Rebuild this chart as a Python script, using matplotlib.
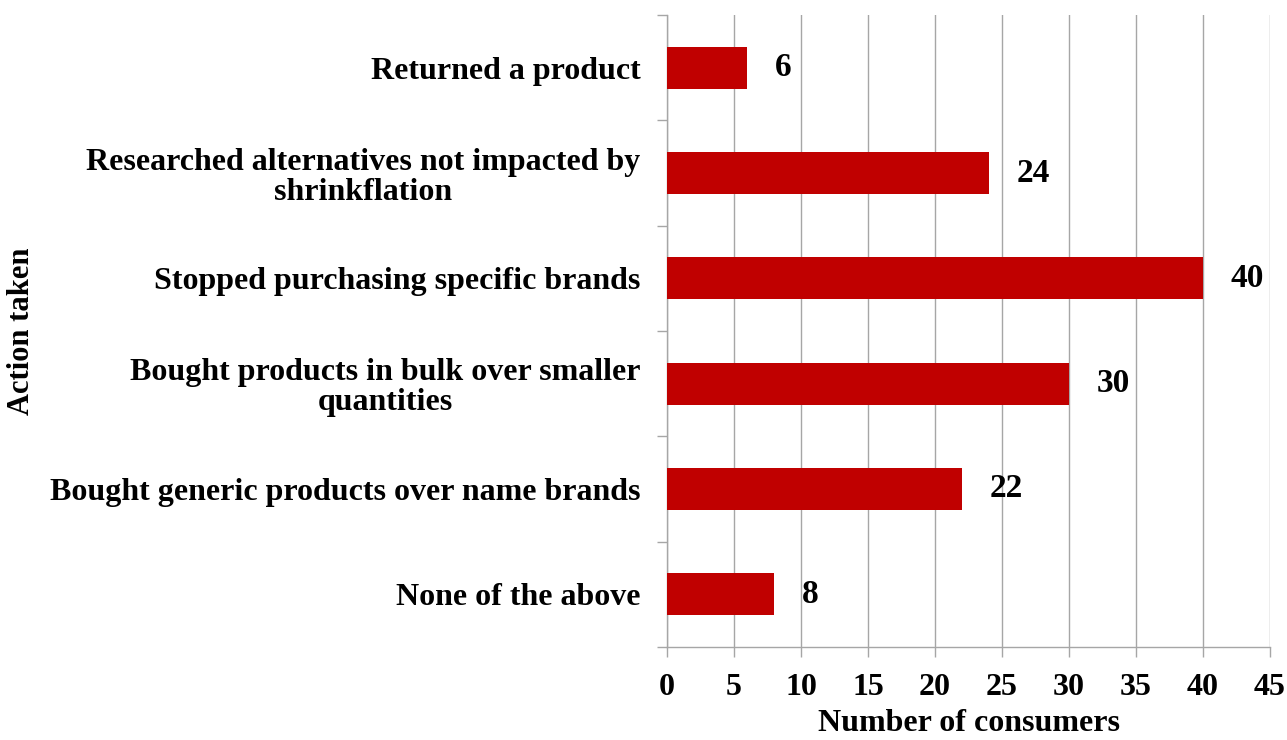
import matplotlib
matplotlib.use("Agg")
import matplotlib.pyplot as plt
import numpy as np

# 消费者针对缩水式通胀采取的行动
actions = [
    "Returned a product",
    "Researched alternatives not impacted by\nshrinkflation",
    "Stopped purchasing specific brands",
    "Bought products in bulk over smaller\nquantities",
    "Bought generic products over name brands",
    "None of the above",
]
consumers = [6, 24, 40, 30, 22, 8]
x_ticks = list(range(0, 50, 5))

plt.rcParams["font.family"] = ["Liberation Serif", "DejaVu Serif"]
plt.rcParams["font.weight"] = "bold"

fig = plt.figure(figsize=(12.87, 7.40), dpi=100)
ax = fig.add_axes([0.5183, 0.1257, 0.4685, 0.854])

pos = np.arange(len(actions))[::-1]
bars = ax.barh(pos, consumers, height=0.4, color="#C00000", zorder=3)

# 数值标签
for p, v in zip(pos, consumers):
    ax.annotate(str(v), xy=(v, p), xytext=(20, 0), textcoords="offset points",
                ha="left", va="center", fontsize=24, fontweight="bold")

ax.set_xlim(0, 45)
ax.set_ylim(-0.5, len(actions) - 0.5)
ax.set_xticks(x_ticks)
ax.set_xticklabels([str(t) for t in x_ticks], fontsize=23, fontweight="bold")
ax.grid(axis="x", color="#A6A6A6", linewidth=1, zorder=0)

ax.set_yticks(pos)
ax.set_yticklabels(actions, fontsize=23, fontweight="bold", linespacing=1.05,
                   multialignment="center")
ax.set_yticks(np.arange(-0.5, len(actions)), minor=True)
ax.tick_params(axis="y", which="major", length=0, pad=19)
ax.tick_params(axis="y", which="minor", length=7, color="#A6A6A6", width=1)
ax.tick_params(axis="x", length=7, color="#A6A6A6", width=1, pad=12)

for s in ["top", "right"]:
    ax.spines[s].set_visible(False)
for s in ["left", "bottom"]:
    ax.spines[s].set_color("#A6A6A6")
    ax.spines[s].set_linewidth(1)

ax.set_xlabel("Number of consumers", fontsize=23, fontweight="bold", labelpad=5)
ax.set_ylabel("Action taken", fontsize=22, fontweight="bold")
ax.yaxis.set_label_coords(-1.046, 0.5)

fig.savefig("out.png", dpi=100)
